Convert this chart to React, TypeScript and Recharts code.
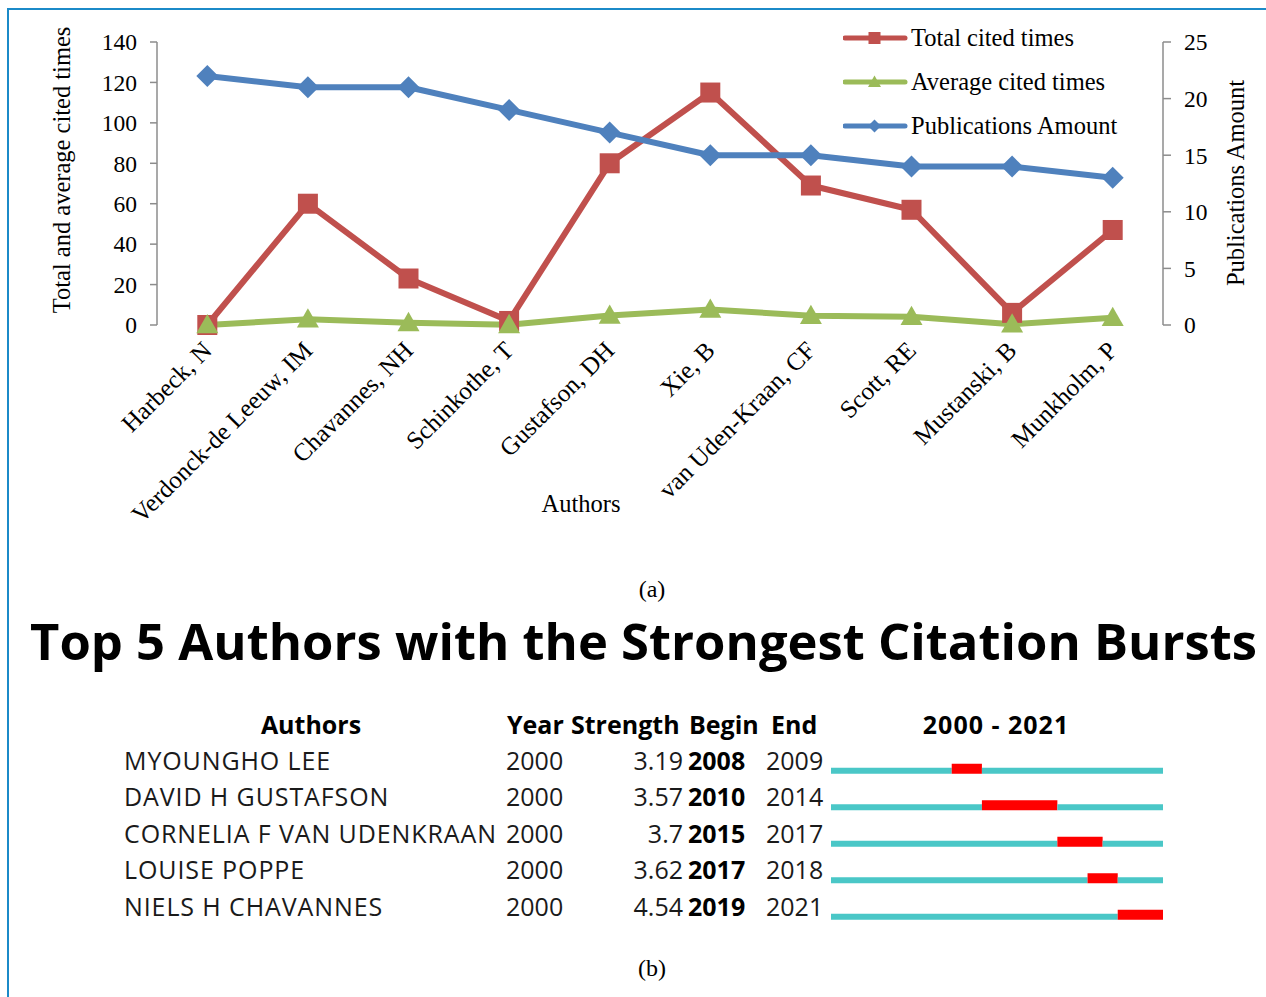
import React from 'react';
import { LineChart, Line, XAxis, YAxis, Legend, BarChart, Bar } from 'recharts';

const SERIF = '"Liberation Serif", "Times New Roman", Times, serif';
const SANS = '"Open Sans", "Noto Sans", sans-serif';

// ---------- Data (a) ----------
const authors = [
  'Harbeck, N',
  'Verdonck-de Leeuw, IM',
  'Chavannes, NH',
  'Schinkothe, T',
  'Gustafson, DH',
  'Xie, B',
  'van Uden-Kraan, CF',
  'Scott, RE',
  'Mustanski, B',
  'Munkholm, P',
];
const totalCited = [0, 60, 23, 2, 80, 115, 69, 57, 6, 47];
const avgCited = [0, 2.9, 1.1, 0.1, 4.7, 7.7, 4.6, 4.1, 0.4, 3.6];
const publications = [22, 21, 21, 19, 17, 15, 15, 14, 14, 13];
const leftTicks = [0, 20, 40, 60, 80, 100, 120, 140];
const rightTicks = [0, 5, 10, 15, 20, 25];
const seriesNames = ['Total cited times', 'Average cited times', 'Publications Amount'];

// ---------- Data (b) ----------
const burstAuthors = ['MYOUNGHO LEE', 'DAVID H GUSTAFSON', 'CORNELIA F VAN UDENKRAAN', 'LOUISE POPPE', 'NIELS H CHAVANNES'];
const burstYear = ['2000', '2000', '2000', '2000', '2000'];
const burstStrength = ['3.19', '3.57', '3.7', '3.62', '4.54'];
const burstBegin = [2008, 2010, 2015, 2017, 2019];
const burstEnd = [2009, 2014, 2017, 2018, 2021];
const rangeStart = 2000;
const rangeEnd = 2021;

// ---------- Styles ----------
const RED = '#C0504D';
const GREEN = '#9BBB59';
const BLUE = '#4F81BD';
const AXIS = '#8C8C8C';
const TEAL = '#4AC7C7';
const BURST = '#FF0000';

const lineData = authors.map((name, i) => ({
  name,
  total: totalCited[i],
  average: avgCited[i],
  publications: publications[i],
}));

const burstData = burstAuthors.map((name, i) => ({
  name,
  year: burstYear[i],
  strength: burstStrength[i],
  begin: burstBegin[i],
  end: burstEnd[i],
  pre: burstBegin[i] - rangeStart,
  burst: burstEnd[i] - burstBegin[i] + 1,
  post: rangeEnd - burstEnd[i],
}));

const gridTicks = authors.map((_, i) => i).concat([authors.length]);

function Marker({ kind, cx, cy, s, color }: any) {
  if (kind === 'square') {
    return <rect x={cx - s / 2} y={cy - s / 2} width={s} height={s} fill={color} />;
  }
  if (kind === 'triangle') {
    return (
      <polygon
        points={`${cx},${cy - s * 0.5} ${cx - s / 2},${cy + s * 0.38} ${cx + s / 2},${cy + s * 0.38}`}
        fill={color}
      />
    );
  }
  return (
    <polygon
      points={`${cx},${cy - s / 2} ${cx + s / 2},${cy} ${cx},${cy + s / 2} ${cx - s / 2},${cy}`}
      fill={color}
    />
  );
}

const markerOf: Record<string, string> = { total: 'square', average: 'triangle', publications: 'diamond' };
const colorOf: Record<string, string> = { total: RED, average: GREEN, publications: BLUE };
const legendOrder = ['total', 'average', 'publications'];

const AuthorTick = (props: any) => {
  const { x, y, payload } = props;
  const ax = x + 6;
  const ay = y + 27;
  return (
    <text
      x={ax}
      y={ay}
      transform={`rotate(-45 ${ax} ${ay})`}
      textAnchor="end"
      fontFamily={SERIF}
      fontSize={25}
      fill="#000"
    >
      {payload.value}
    </text>
  );
};

const renderLegend = (props: any) => {
  const payload: any[] = props.payload || [];
  const items = legendOrder
    .map((k) => payload.find((p) => p.dataKey === k))
    .filter(Boolean);
  return (
    <svg width={320} height={130} style={{ display: 'block' }}>
      {items.map((e: any, i: number) => {
        const cy = 16 + i * 44;
        const k = e.dataKey as string;
        const s = k === 'total' ? 12 : 13;
        return (
          <g key={k}>
            <line x1={2} x2={62} y1={cy} y2={cy} stroke={colorOf[k]} strokeWidth={5} strokeLinecap="round" />
            <Marker kind={markerOf[k]} cx={31.5} cy={cy} s={s} color={colorOf[k]} />
            <text x={68} y={cy + 8} fontFamily={SERIF} fontSize={24.5} fill="#000">
              {e.value}
            </text>
          </g>
        );
      })}
    </svg>
  );
};

const RowTick = (props: any) => {
  const { y, payload } = props;
  const row = burstData[payload.index] || burstData.find((d) => d.name === payload.value);
  if (!row) return null;
  const by = y + 0.5;
  const common = { fontFamily: SANS, fontSize: 25, fill: '#1a1a1a' };
  return (
    <g>
      <text x={124} y={by} {...common} letterSpacing={0.9}>{row.name}</text>
      <text x={506} y={by} {...common}>{row.year}</text>
      <text x={683} y={by} textAnchor="end" {...common}>{row.strength}</text>
      <text x={688} y={by} {...common} fontWeight={700} fill="#000">{row.begin}</text>
      <text x={766} y={by} {...common}>{row.end}</text>
    </g>
  );
};

const tealShape = (p: any) => (
  <rect x={p.x} y={p.y + 4} width={Math.max(0, p.width)} height={6} fill={TEAL} />
);
const burstShape = (p: any) => (
  <rect x={p.x} y={p.y} width={Math.max(0, p.width)} height={10} fill={BURST} />
);

export default function App() {
  return (
    <div
      style={{
        position: 'absolute',
        left: 0,
        top: 0,
        width: 1266,
        height: 997,
        background: '#fff',
        overflow: 'hidden',
      }}
    >
      {/* frame */}
      <div
        style={{
          position: 'absolute',
          left: 7,
          top: 8,
          width: 1270,
          height: 1000,
          borderTop: '2px solid #1B8AC8',
          borderLeft: '2px solid #1B8AC8',
        }}
      />

      {/* (a) line chart */}
      <div style={{ position: 'absolute', left: 0, top: 0 }}>
        <LineChart width={1266} height={540} data={lineData} margin={{ top: 42, right: 0, bottom: 0, left: 0 }}>
          <XAxis
            xAxisId="grid"
            type="number"
            domain={[0, authors.length]}
            ticks={gridTicks}
            allowDataOverflow
            height={0}
            tick={false}
            tickSize={7}
            axisLine={{ stroke: AXIS, strokeWidth: 1.5 }}
            tickLine={{ stroke: AXIS, strokeWidth: 1.5 }}
          />
          <XAxis
            xAxisId="cat"
            dataKey="name"
            type="category"
            scale="band"
            height={215}
            interval={0}
            axisLine={false}
            tickLine={false}
            tickSize={0}
            tickMargin={0}
            tick={<AuthorTick />}
            label={() => (
              <text x={581} y={512} textAnchor="middle" fontFamily={SERIF} fontSize={24.5} fill="#000">
                Authors
              </text>
            )}
          />
          <YAxis
            yAxisId="left"
            domain={[0, 140]}
            ticks={leftTicks}
            width={157}
            tickSize={7}
            tickMargin={13}
            axisLine={{ stroke: AXIS, strokeWidth: 1.5 }}
            tickLine={{ stroke: AXIS, strokeWidth: 1.5 }}
            tick={{ fontFamily: SERIF, fontSize: 23.5, fill: '#000' }}
            label={() => (
              <text
                x={70}
                y={170}
                transform="rotate(-90 70 170)"
                textAnchor="middle"
                fontFamily={SERIF}
                fontSize={24.5}
                fill="#000"
              >
                Total and average cited times
              </text>
            )}
          />
          <YAxis
            yAxisId="right"
            orientation="right"
            domain={[0, 25]}
            ticks={rightTicks}
            width={103}
            tickSize={8}
            tickMargin={13}
            axisLine={{ stroke: AXIS, strokeWidth: 1.5 }}
            tickLine={{ stroke: AXIS, strokeWidth: 1.5 }}
            tick={{ fontFamily: SERIF, fontSize: 23.5, fill: '#000', textAnchor: 'start' }}
            label={() => (
              <text
                x={1244}
                y={183}
                transform="rotate(-90 1244 183)"
                textAnchor="middle"
                fontFamily={SERIF}
                fontSize={24.5}
                fill="#000"
              >
                Publications Amount
              </text>
            )}
          />
          <Legend
            layout="vertical"
            align="center"
            verticalAlign="middle"
            content={renderLegend}
            wrapperStyle={{ left: 843, top: 22, width: 320, height: 130 }}
          />
          <Line
            xAxisId="cat"
            yAxisId="left"
            dataKey="total"
            name={seriesNames[0]}
            stroke={RED}
            strokeWidth={6}
            strokeLinejoin="round"
            isAnimationActive={false}
            activeDot={false}
            dot={(p: any) => <Marker key={`r${p.index}`} kind="square" cx={p.cx} cy={p.cy} s={20} color={RED} />}
          />
          <Line
            xAxisId="cat"
            yAxisId="left"
            dataKey="average"
            name={seriesNames[1]}
            stroke={GREEN}
            strokeWidth={6}
            strokeLinejoin="round"
            isAnimationActive={false}
            activeDot={false}
            dot={(p: any) => <Marker key={`g${p.index}`} kind="triangle" cx={p.cx} cy={p.cy} s={22} color={GREEN} />}
          />
          <Line
            xAxisId="cat"
            yAxisId="right"
            dataKey="publications"
            name={seriesNames[2]}
            stroke={BLUE}
            strokeWidth={6}
            strokeLinejoin="round"
            isAnimationActive={false}
            activeDot={false}
            dot={(p: any) => <Marker key={`b${p.index}`} kind="diamond" cx={p.cx} cy={p.cy} s={22} color={BLUE} />}
          />
        </LineChart>
      </div>

      {/* static texts */}
      <svg
        width={1266}
        height={997}
        style={{ position: 'absolute', left: 0, top: 0, pointerEvents: 'none' }}
      >
        <text x={652} y={597} textAnchor="middle" fontFamily={SERIF} fontSize={24} fill="#000">(a)</text>
        <text
          x={30}
          y={660}
          textLength={1227}
          lengthAdjust="spacingAndGlyphs"
          fontFamily={SANS}
          fontWeight={700}
          fontSize={50}
          fill="#000"
        >
          Top 5 Authors with the Strongest Citation Bursts
        </text>
        <g fontFamily={SANS} fontWeight={700} fontSize={25} fill="#000">
          <text x={311} y={734} textAnchor="middle">Authors</text>
          <text x={507} y={734}>Year</text>
          <text x={571} y={734}>Strength</text>
          <text x={689} y={734}>Begin</text>
          <text x={771} y={734}>End</text>
          <text x={996} y={734} textAnchor="middle" letterSpacing={1}>{`${rangeStart} - ${rangeEnd}`}</text>
        </g>
        <text x={652} y={976} textAnchor="middle" fontFamily={SERIF} fontSize={24} fill="#000">(b)</text>
      </svg>

      {/* (b) burst chart */}
      <div style={{ position: 'absolute', left: 0, top: 700 }}>
        <BarChart
          width={1266}
          height={260}
          layout="vertical"
          data={burstData}
          margin={{ top: 50.75, right: 103, bottom: 26.75, left: 0 }}
        >
          <XAxis type="number" domain={[0, rangeEnd - rangeStart + 1]} hide allowDataOverflow />
          <YAxis
            type="category"
            dataKey="name"
            width={831}
            axisLine={false}
            tickLine={false}
            interval={0}
            tick={<RowTick />}
          />
          <Bar dataKey="pre" stackId="a" barSize={10} isAnimationActive={false} shape={tealShape} />
          <Bar dataKey="burst" stackId="a" barSize={10} isAnimationActive={false} shape={burstShape} />
          <Bar dataKey="post" stackId="a" barSize={10} isAnimationActive={false} shape={tealShape} />
        </BarChart>
      </div>
    </div>
  );
}
